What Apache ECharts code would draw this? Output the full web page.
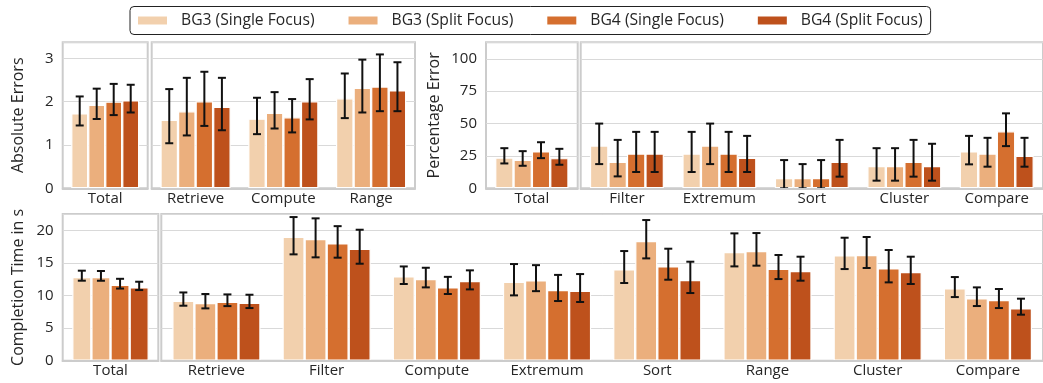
<!DOCTYPE html>
<html>
<head>
<meta charset="utf-8">
<script src="https://cdn.jsdelivr.net/npm/echarts@6/dist/echarts.min.js"></script>
<style>
  html, body { margin: 0; padding: 0; background: #ffffff; }
  #chart { width: 1043px; height: 383px; }
</style>
</head>
<body>
<div id="chart"></div>
<script>
// ---- data -------------------------------------------------------------
const seriesNames = ['BG3 (Single Focus)', 'BG3 (Split Focus)', 'BG4 (Single Focus)', 'BG4 (Split Focus)'];

// Absolute errors (mean and 95% CI), one row per condition
const absCategories = ['Total', 'Retrieve', 'Compute', 'Range'];
const absTicks = [0, 1, 2, 3];
const absMeans = [
  [1.73, 1.58, 1.61, 2.08],
  [1.93, 1.78, 1.74, 2.32],
  [2.00, 2.01, 1.64, 2.35],
  [2.03, 1.88, 2.01, 2.26]
];
const absLow = [
  [1.45, 1.04, 1.25, 1.62],
  [1.60, 1.22, 1.38, 1.75],
  [1.69, 1.44, 1.29, 1.78],
  [1.75, 1.34, 1.59, 1.78]
];
const absHigh = [
  [2.12, 2.29, 2.09, 2.65],
  [2.30, 2.55, 2.22, 2.97],
  [2.41, 2.69, 2.06, 3.09],
  [2.39, 2.55, 2.52, 2.91]
];

// Percentage error
const pctCategories = ['Total', 'Filter', 'Extremum', 'Sort', 'Cluster', 'Compare'];
const pctTicks = [0, 25, 50, 75, 100];
const pctMeans = [
  [23.8, 33.1, 26.9, 7.9, 17.2, 28.5],
  [22.1, 20.5, 33.1, 7.9, 17.2, 26.9],
  [28.5, 26.9, 26.9, 7.9, 20.5, 44.1],
  [23.3, 26.9, 23.6, 20.5, 17.2, 25.1]
];
const pctLow = [
  [19.2, 18.7, 12.6, 0, 5.9, 18.5],
  [17.4, 9.2, 18.7, 0, 5.9, 16.7],
  [23.3, 12.6, 12.6, 0, 9.0, 32.6],
  [18.2, 12.6, 12.6, 9.0, 5.9, 16.7]
];
const pctHigh = [
  [31.0, 50.0, 43.6, 21.8, 31.0, 40.5],
  [28.7, 37.4, 50.0, 18.7, 31.0, 39.0],
  [35.6, 43.6, 43.6, 21.8, 37.4, 57.9],
  [30.5, 43.6, 40.5, 37.4, 34.4, 39.0]
];

// Completion time in seconds
const timeCategories = ['Total', 'Retrieve', 'Filter', 'Compute', 'Extremum', 'Sort', 'Range', 'Cluster', 'Compare'];
const timeTicks = [0, 5, 10, 15, 20];
const timeMeans = [
  [12.87, 9.23, 19.08, 12.97, 12.15, 14.05, 16.72, 16.20, 11.13],
  [12.87, 8.87, 18.72, 12.56, 12.36, 18.41, 16.87, 16.26, 9.59],
  [11.69, 9.08, 18.05, 11.28, 10.87, 14.51, 14.15, 14.20, 9.33],
  [11.28, 8.92, 17.23, 12.26, 10.77, 12.41, 13.79, 13.64, 8.05]
];
const timeLow = [
  [12.31, 8.46, 16.36, 11.80, 10.05, 11.95, 14.51, 14.10, 9.79],
  [12.30, 8.05, 15.90, 11.28, 10.70, 15.74, 14.62, 14.26, 8.41],
  [11.10, 8.40, 15.85, 10.26, 9.18, 12.46, 12.56, 12.05, 8.10],
  [10.87, 8.10, 14.92, 10.97, 9.03, 10.41, 12.31, 11.80, 7.08]
];
const timeHigh = [
  [13.85, 10.50, 22.10, 14.50, 14.87, 16.87, 19.59, 18.92, 12.87],
  [13.80, 10.26, 21.90, 14.30, 14.70, 21.64, 19.64, 19.03, 11.28],
  [12.60, 10.20, 20.70, 12.90, 13.20, 17.23, 16.26, 17.03, 11.03],
  [12.15, 10.15, 20.15, 13.90, 13.33, 15.23, 16.00, 16.00, 9.54]
];

// ---- styling ----------------------------------------------------------
const FONT = '"Open Sans", "Noto Sans", sans-serif';
const TEXT = '#262626';
const SPINE = '#cccccc';
const GRIDLINE = '#d9d9d9';
const colors = ['#f2d0ad', '#ebaf7d', '#d56f2f', '#be511c'];

// Each metric is split into a "Total" sub-panel and a per-task sub-panel.
const panels = [
  { grid: { left: 62.7, top: 42.3, width: 85, height: 146 },
    cats: absCategories, means: absMeans, low: absLow, high: absHigh, ticks: absTicks,
    from: 0, to: 1, yMax: 3.37, title: 'Absolute Errors', nameGap: 36 },
  { grid: { left: 151.7, top: 42.3, width: 263.3, height: 146 },
    cats: absCategories, means: absMeans, low: absLow, high: absHigh, ticks: absTicks,
    from: 1, to: 4, yMax: 3.37 },
  { grid: { left: 486, top: 42.3, width: 91.7, height: 146 },
    cats: pctCategories, means: pctMeans, low: pctLow, high: pctHigh, ticks: pctTicks,
    from: 0, to: 1, yMax: 112.8, title: 'Percentage Error', nameGap: 44 },
  { grid: { left: 580.7, top: 42.3, width: 470, height: 146 },
    cats: pctCategories, means: pctMeans, low: pctLow, high: pctHigh, ticks: pctTicks,
    from: 1, to: 6, yMax: 112.8 },
  { grid: { left: 62.7, top: 214, width: 95.6, height: 146.7 },
    cats: timeCategories, means: timeMeans, low: timeLow, high: timeHigh, ticks: timeTicks,
    from: 0, to: 1, yMax: 22.57, title: 'Completion Time in s', nameGap: 36 },
  { grid: { left: 161.3, top: 214, width: 888, height: 146.7 },
    cats: timeCategories, means: timeMeans, low: timeLow, high: timeHigh, ticks: timeTicks,
    from: 1, to: 9, yMax: 22.57 }
];

function renderErrorBar(params, api) {
  const cat = api.value(0);
  const grp = api.value(1);
  const lo = api.value(2);
  const hi = api.value(3);
  const band = api.size([1, 0])[0];
  const top = api.coord([cat, hi]);
  const bottom = api.coord([cat, lo]);
  const x = top[0] + (grp - 1.5) * band * 0.2;
  const half = 4;
  const style = { stroke: '#111111', lineWidth: 2, fill: null };
  return {
    type: 'group',
    children: [
      { type: 'line', shape: { x1: x, y1: top[1], x2: x, y2: bottom[1] }, style: style },
      { type: 'line', shape: { x1: x - half, y1: top[1], x2: x + half, y2: top[1] }, style: style },
      { type: 'line', shape: { x1: x - half, y1: bottom[1], x2: x + half, y2: bottom[1] }, style: style }
    ]
  };
}

const grids = [];
const xAxes = [];
const yAxes = [];
const series = [];

panels.forEach(function (p, gi) {
  grids.push(Object.assign({ show: true, borderColor: SPINE, borderWidth: 2, backgroundColor: 'transparent' }, p.grid));
  const cats = p.cats.slice(p.from, p.to);
  xAxes.push({
    type: 'category', gridIndex: gi, data: cats, z: 10,
    axisLine: { show: true, lineStyle: { color: SPINE, width: 2 } },
    axisTick: { show: false },
    axisLabel: { interval: 0, margin: 3, fontFamily: FONT, fontSize: 15, color: TEXT }
  });
  const step = p.ticks[1] - p.ticks[0];
  yAxes.push({
    type: 'value', gridIndex: gi, min: p.ticks[0], max: p.yMax, interval: step,
    axisLine: { show: false }, axisTick: { show: false },
    splitLine: { show: true, lineStyle: { color: GRIDLINE, width: 1 } },
    axisLabel: {
      show: !!p.title, margin: 9, fontFamily: FONT, fontSize: 15, color: TEXT,
      showMaxLabel: false,
      formatter: function (v) { return p.ticks.indexOf(v) >= 0 ? String(v) : ''; }
    },
    name: p.title || '', nameLocation: 'middle', nameGap: p.nameGap || 0,
    nameTextStyle: { fontFamily: FONT, fontSize: 16, color: TEXT }
  });
  const errData = [];
  for (let g = 0; g < 4; g++) {
    series.push({
      type: 'bar', name: seriesNames[g], xAxisIndex: gi, yAxisIndex: gi,
      data: p.means[g].slice(p.from, p.to),
      barCategoryGap: '20%', barGap: '0%',
      itemStyle: { color: colors[g], borderColor: '#ffffff', borderWidth: 1.2 },
      emphasis: { disabled: true }
    });
    for (let i = p.from; i < p.to; i++) {
      errData.push([i - p.from, g, p.low[g][i], p.high[g][i]]);
    }
  }
  series.push({
    type: 'custom', xAxisIndex: gi, yAxisIndex: gi, z: 5,
    dimensions: ['cat', 'grp', 'lo', 'hi'],
    encode: { x: 'cat', y: ['lo', 'hi'] },
    renderItem: renderErrorBar,
    data: errData,
    silent: true
  });
});

const chart = echarts.init(document.getElementById('chart'), null, { renderer: 'canvas' });
chart.setOption({
  animation: false,
  color: colors,
  textStyle: { fontFamily: FONT },
  legend: {
    data: seriesNames,
    left: 130, top: 6.5,
    icon: 'rect', itemWidth: 29, itemHeight: 8, itemGap: 34,
    itemStyle: { borderWidth: 0 },
    borderColor: '#222222', borderWidth: 1, borderRadius: 4,
    padding: [6, 8],
    textStyle: { fontFamily: FONT, fontSize: 15.7, color: TEXT, padding: [0, 0, 0, 9] }
  },
  grid: grids,
  xAxis: xAxes,
  yAxis: yAxes,
  series: series
});
</script>
</body>
</html>
